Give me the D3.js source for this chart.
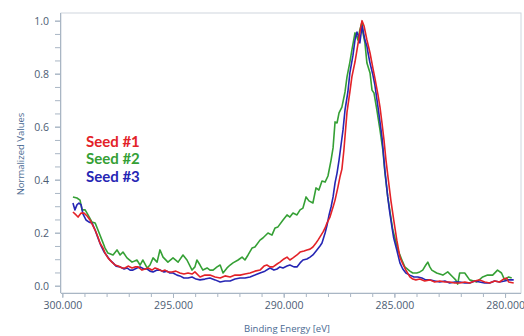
<!DOCTYPE html>
<html><head><meta charset="utf-8">
<script src="https://cdn.jsdelivr.net/npm/d3@7/dist/d3.min.js"></script>
<style>html,body{margin:0;padding:0;background:#fff;}svg{display:block;}</style>
</head><body><svg id="c" width="524" height="336"></svg>
<script>
const seriesNames = ["Seed #1", "Seed #2", "Seed #3"];
const xMajorTicks = [300, 295, 290, 285, 280];
const yMajorTicks = [0, 0.2, 0.4, 0.6, 0.8, 1.0];

const seed1E = [299.52,299.38,299.29,299.15,299.02,298.88,298.75,298.61,298.52,298.39,298.30,298.16,298.07,297.94,297.76,297.62,297.48,297.30,297.17,297.03,296.85,296.72,296.58,296.40,296.26,296.13,295.95,295.81,295.68,295.50,295.36,295.23,295.05,294.87,294.69,294.51,294.32,294.14,294.01,293.78,293.56,293.33,293.10,292.87,292.65,292.42,292.20,291.97,291.75,291.52,291.30,291.07,290.89,290.76,290.62,290.48,290.30,290.17,289.99,289.85,289.72,289.58,289.40,289.26,289.08,288.95,288.81,288.68,288.54,288.45,288.31,288.22,288.13,288.04,287.91,287.77,287.68,287.55,287.46,287.37,287.28,287.14,287.01,286.92,286.78,286.69,286.60,286.51,286.46,286.37,286.24,286.10,285.97,285.88,285.74,285.65,285.56,285.47,285.38,285.30,285.16,285.03,284.89,284.75,284.62,284.48,284.30,284.17,284.03,283.85,283.63,283.40,283.18,282.95,282.72,282.50,282.28,282.05,281.82,281.60,281.37,281.15,280.92,280.70,280.47,280.25,280.07,279.93,279.84,279.61];
const seed1V = [0.278,0.267,0.259,0.274,0.274,0.263,0.248,0.225,0.210,0.184,0.161,0.142,0.123,0.105,0.089,0.078,0.074,0.067,0.067,0.074,0.067,0.071,0.071,0.059,0.063,0.067,0.059,0.067,0.063,0.055,0.059,0.052,0.052,0.055,0.048,0.044,0.048,0.044,0.052,0.033,0.040,0.040,0.033,0.029,0.037,0.033,0.040,0.040,0.044,0.048,0.055,0.059,0.074,0.078,0.071,0.071,0.082,0.089,0.101,0.108,0.097,0.105,0.116,0.127,0.131,0.135,0.138,0.146,0.161,0.172,0.191,0.203,0.218,0.237,0.259,0.297,0.323,0.372,0.410,0.440,0.512,0.655,0.731,0.788,0.844,0.889,0.935,0.980,1.000,0.980,0.927,0.878,0.821,0.783,0.720,0.674,0.614,0.550,0.474,0.418,0.323,0.248,0.172,0.108,0.082,0.059,0.033,0.025,0.022,0.025,0.018,0.022,0.014,0.018,0.014,0.014,0.010,0.010,0.014,0.010,0.018,0.022,0.014,0.010,0.018,0.014,0.025,0.029,0.014,0.010];

const seed2E = [299.52,299.34,299.20,299.11,298.97,298.84,298.66,298.52,298.39,298.21,298.07,297.94,297.71,297.53,297.39,297.26,297.08,296.85,296.63,296.49,296.36,296.17,296.04,295.90,295.72,295.59,295.45,295.23,295.00,294.77,294.55,294.37,294.14,294.01,293.92,293.78,293.65,293.46,293.33,293.19,293.01,292.87,292.74,292.56,292.42,292.29,292.06,291.88,291.75,291.61,291.43,291.30,291.07,290.94,290.71,290.53,290.39,290.26,290.03,289.85,289.72,289.58,289.40,289.26,289.13,288.99,288.86,288.68,288.54,288.41,288.27,288.13,288.00,287.86,287.77,287.68,287.59,287.50,287.37,287.23,287.14,287.01,286.92,286.78,286.69,286.65,286.56,286.46,286.42,286.33,286.24,286.10,286.01,285.92,285.79,285.65,285.52,285.43,285.30,285.16,285.07,284.93,284.84,284.66,284.53,284.30,284.17,283.99,283.85,283.72,283.58,283.49,283.40,283.31,283.09,282.95,282.81,282.59,282.36,282.23,282.14,282.05,281.82,281.60,281.28,281.01,280.79,280.56,280.34,280.16,280.02,279.84,279.70];
const seed2V = [0.335,0.331,0.323,0.286,0.286,0.267,0.240,0.237,0.210,0.172,0.142,0.123,0.116,0.135,0.116,0.127,0.105,0.089,0.097,0.078,0.097,0.067,0.078,0.105,0.089,0.135,0.108,0.089,0.105,0.089,0.116,0.097,0.059,0.071,0.097,0.078,0.059,0.067,0.059,0.059,0.071,0.078,0.048,0.067,0.078,0.086,0.097,0.108,0.097,0.116,0.142,0.146,0.172,0.180,0.199,0.191,0.218,0.222,0.248,0.267,0.259,0.274,0.267,0.286,0.293,0.335,0.320,0.312,0.369,0.361,0.395,0.391,0.414,0.474,0.520,0.618,0.614,0.652,0.674,0.731,0.788,0.844,0.889,0.954,0.939,0.927,0.965,0.995,0.954,0.916,0.840,0.803,0.738,0.727,0.663,0.588,0.512,0.429,0.335,0.259,0.210,0.165,0.135,0.097,0.071,0.055,0.048,0.048,0.052,0.059,0.078,0.089,0.071,0.059,0.048,0.044,0.040,0.052,0.033,0.022,0.006,0.048,0.048,0.022,0.014,0.033,0.040,0.040,0.059,0.048,0.022,0.033,0.029];

const seed3E = [299.52,299.43,299.34,299.25,299.15,299.07,298.93,298.79,298.66,298.52,298.39,298.25,298.11,297.98,297.85,297.71,297.57,297.39,297.21,297.08,296.94,296.81,296.63,296.49,296.31,296.17,296.04,295.90,295.72,295.59,295.41,295.27,295.14,295.00,294.82,294.69,294.51,294.32,294.14,293.96,293.78,293.56,293.33,293.10,292.87,292.65,292.42,292.20,291.97,291.75,291.52,291.30,291.07,290.85,290.62,290.44,290.30,290.17,290.03,289.85,289.72,289.54,289.40,289.26,289.13,288.95,288.81,288.68,288.50,288.36,288.27,288.13,288.04,287.95,287.86,287.77,287.68,287.59,287.50,287.41,287.32,287.23,287.10,287.01,286.87,286.78,286.69,286.60,286.56,286.46,286.42,286.33,286.24,286.19,286.10,285.97,285.88,285.74,285.65,285.56,285.43,285.30,285.21,285.11,285.03,284.89,284.75,284.62,284.48,284.30,284.12,283.94,283.76,283.58,283.40,283.18,282.95,282.72,282.50,282.28,282.05,281.82,281.60,281.37,281.15,280.92,280.70,280.47,280.25,280.02,279.84,279.61];
const seed3V = [0.312,0.286,0.305,0.312,0.305,0.271,0.248,0.240,0.237,0.210,0.180,0.150,0.127,0.112,0.097,0.086,0.074,0.071,0.063,0.067,0.059,0.059,0.067,0.071,0.063,0.063,0.055,0.052,0.059,0.059,0.052,0.055,0.048,0.048,0.040,0.037,0.029,0.029,0.033,0.025,0.022,0.025,0.029,0.022,0.014,0.018,0.018,0.025,0.029,0.029,0.033,0.040,0.048,0.055,0.067,0.059,0.063,0.071,0.067,0.074,0.078,0.071,0.071,0.086,0.097,0.101,0.108,0.116,0.135,0.150,0.161,0.199,0.229,0.267,0.297,0.335,0.388,0.425,0.474,0.531,0.588,0.663,0.731,0.803,0.870,0.927,0.957,0.935,0.916,0.980,0.965,0.927,0.904,0.878,0.840,0.795,0.757,0.674,0.618,0.561,0.436,0.335,0.278,0.222,0.180,0.135,0.086,0.063,0.048,0.040,0.033,0.033,0.029,0.022,0.022,0.018,0.014,0.018,0.010,0.014,0.014,0.010,0.010,0.018,0.014,0.010,0.010,0.018,0.014,0.018,0.022,0.022];

const colors = ["#e32228", "#35a035", "#2626b4"];
const series = [
  {name: seriesNames[0], E: seed1E, V: seed1V, color: colors[0]},
  {name: seriesNames[1], E: seed2E, V: seed2V, color: colors[1]},
  {name: seriesNames[2], E: seed3E, V: seed3V, color: colors[2]}
];

const L = 61, R = 521, T = 13, B = 293;
const svg = d3.select("#c");
const x = d3.scaleLinear().domain([300.06, 279.28]).range([L, R]);
const y = d3.scaleLinear().domain([-0.0275, 1.029]).range([B, T]);

const axisCol = "#a9b6c4", textCol = "#4d5d74", titleCol = "#4a6a92";

svg.append("rect").attr("x", L).attr("y", T).attr("width", R - L).attr("height", B - T)
  .attr("fill", "none").attr("stroke", "#cfd6de").attr("stroke-width", 1);

// X axis
const xMinor = d3.range(300, 279, -1);
const gx = svg.append("g").attr("transform", `translate(0,${B})`);
gx.call(d3.axisBottom(x).tickValues(xMinor).tickSize(4).tickFormat(""));
gx.call(g => g.selectAll(".tick line").attr("stroke", axisCol));
const gx2 = svg.append("g").attr("transform", `translate(0,${B})`);
gx2.call(d3.axisBottom(x).tickValues(xMajorTicks).tickSize(5).tickPadding(4).tickFormat(d3.format(".3f")));
gx2.selectAll(".domain").remove();
gx.select(".domain").attr("stroke", axisCol).attr("d", `M${L},0.5H${R}`);
gx2.selectAll(".tick line").attr("stroke", axisCol);
gx2.selectAll(".tick text").attr("fill", textCol).style("font-family", "'Open Sans', sans-serif").style("font-size", "10.5px");

// Y axis
const yMinor = d3.range(0, 1.001, 0.05);
const gy = svg.append("g").attr("transform", `translate(${L},0)`);
gy.call(d3.axisLeft(y).tickValues(yMinor).tickSize(6).tickFormat(""));
gy.select(".domain").attr("stroke", axisCol).attr("d", `M-0.5,${B}V${T}`);
gy.selectAll(".tick line").attr("stroke", axisCol);
const gy2 = svg.append("g").attr("transform", `translate(${L},0)`);
gy2.call(d3.axisLeft(y).tickValues(yMajorTicks).tickSize(6).tickPadding(6).tickFormat(d3.format(".1f")));
gy2.select(".domain").remove();
gy2.selectAll(".tick line").attr("stroke", axisCol);
gy2.selectAll(".tick text").attr("fill", textCol).style("font-family", "'Open Sans', sans-serif").style("font-size", "10.5px");

// Titles
svg.append("text").attr("x", 287).attr("y", 332).attr("text-anchor", "middle")
  .attr("fill", titleCol).style("font-family", "'Open Sans', sans-serif").style("font-size", "9.5px")
  .text("Binding Energy [eV]");
svg.append("text").attr("transform", "translate(24,154) rotate(-90)").attr("text-anchor", "middle")
  .attr("fill", titleCol).style("font-family", "'Open Sans', sans-serif").style("font-size", "9.5px")
  .text("Normalized Values");

// Lines
const line = d3.line().x(d => x(d[0])).y(d => y(d[1]));
const drawOrder = [1, 2, 0];
svg.append("g").attr("clip-path", null).selectAll("path").data(drawOrder.map(i => series[i])).join("path")
  .attr("d", s => line(s.E.map((e, i) => [e, s.V[i]])))
  .attr("fill", "none").attr("stroke", s => s.color).attr("stroke-width", 1.6)
  .attr("stroke-linejoin", "round");

// Legend
svg.append("g").selectAll("text").data(series).join("text")
  .attr("x", 86).attr("y", (d, i) => 146.5 + i * 17.8)
  .attr("fill", d => d.color).style("font-family", "Lato, sans-serif").style("font-weight", "bold").style("font-size", "15px")
  .text(d => d.name);
</script></body></html>
